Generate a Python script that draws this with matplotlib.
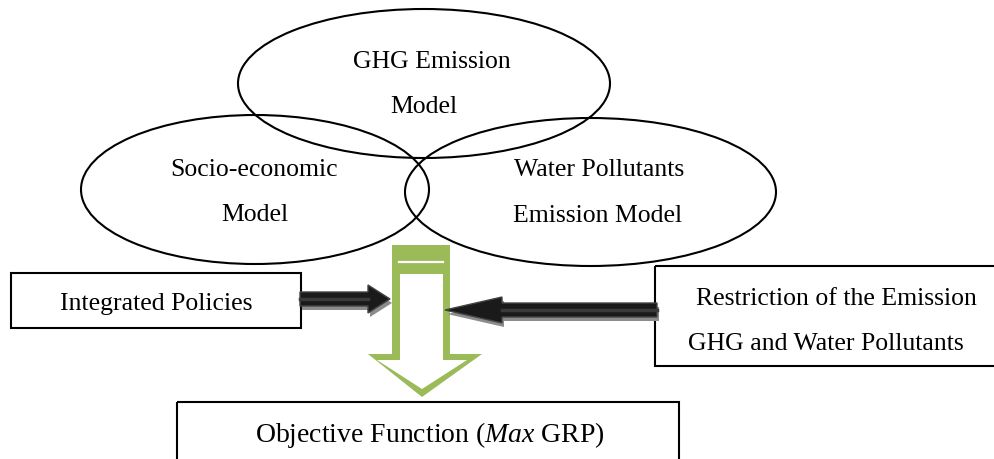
import matplotlib
matplotlib.use("Agg")
import matplotlib.pyplot as plt
from matplotlib.patches import Ellipse, Rectangle, Polygon

plt.rcParams['font.family'] = ['Liberation Serif', 'DejaVu Serif']
plt.rcParams['mathtext.fontset'] = 'custom'
plt.rcParams['mathtext.rm'] = 'Liberation Serif'
plt.rcParams['mathtext.it'] = 'Liberation Serif:italic'

# the three models (ellipses)
model_names = [["GHG Emission", "Model"],
               ["Socio-economic", "Model"],
               ["Water Pollutants", "Emission Model"]]
# side inputs and the goal
left_label = "Integrated Policies"
right_label = ["Restriction of the Emission", "GHG and Water Pollutants"]
goal_label = r"Objective Function ($\mathit{Max}$ GRP)"

green = "#9BBB59"

fig = plt.figure(figsize=(9.95, 4.6), dpi=100)
ax = fig.add_axes([0, 0, 1, 1])
ax.set_xlim(0, 995)
ax.set_ylim(460, 0)
ax.axis('off')

# ellipses: centre, width, height
ell = [((424, 84.5), 372, 149), ((255, 190.5), 348, 149), ((590.5, 193), 371, 148)]
for (c, w, h) in ell:
    ax.add_patch(Ellipse(c, w, h, fill=False, ec='black', lw=1.5, zorder=2))

# text inside ellipses (x, baseline y of the two lines)
txt_pos = [[(432, 68), (424, 113)], [(254, 176), (255, 221)], [(599, 176), (598, 222)]]
for names, pos in zip(model_names, txt_pos):
    for s, (x, y) in zip(names, pos):
        ax.text(x, y, s, fontsize=18.5, ha='center', va='baseline', zorder=3)

# green down arrow (outline) with a filled band on top
outer = [(392, 246), (450, 246), (450, 355), (482, 355), (422, 398), (368, 355), (392, 355)]
inner = [(400, 275), (443, 275), (443, 361), (467, 361), (422, 390), (377, 361), (400, 361)]
ax.add_patch(Polygon(outer, closed=True, fc=green, ec='none', zorder=4))
ax.add_patch(Polygon(inner, closed=True, fc='white', ec='none', zorder=5))
ax.plot([399, 443], [263, 263], color='white', lw=1.6, zorder=6)

# boxes
ax.add_patch(Rectangle((11, 274), 290, 55, fill=False, ec='black', lw=1.5, zorder=3))
ax.add_patch(Rectangle((655, 267), 360, 100, fill=False, ec='black', lw=1.5, zorder=3, clip_on=True))
ax.add_patch(Rectangle((177, 403), 502, 80, fill=False, ec='black', lw=1.5, zorder=3, clip_on=True))

ax.text(156, 310, left_label, fontsize=18.5, ha='center', va='baseline', zorder=3)
ax.text(836, 305, right_label[0], fontsize=18.5, ha='center', va='baseline', zorder=3)
ax.text(826, 350, right_label[1], fontsize=18.5, ha='center', va='baseline', zorder=3)
ax.text(430, 442, goal_label, fontsize=20, ha='center', va='baseline', zorder=3)


def block_arrow(x0, x1, y, shaft, head_w, head_len):
    d = 1 if x1 > x0 else -1
    xh = x1 - d * head_len
    pts = [(x0, y - shaft / 2), (xh, y - shaft / 2), (xh, y - head_w / 2), (x1, y),
           (xh, y + head_w / 2), (xh, y + shaft / 2), (x0, y + shaft / 2)]
    shadow = [(px + 2, py + 4) for px, py in pts]
    ax.add_patch(Polygon(shadow, closed=True, fc='#8c8c8c', ec='none', zorder=7))
    ax.add_patch(Polygon(pts, closed=True, fc='#1a1a1a', ec='#444444', lw=1, zorder=8))
    ax.plot([x0, xh], [y, y], color='#3a3a3a', lw=2.5, zorder=9)


block_arrow(300, 390, 300, 14, 28, 22)
block_arrow(657, 445, 311, 14, 26, 57)

fig.savefig("out.png", dpi=100)
